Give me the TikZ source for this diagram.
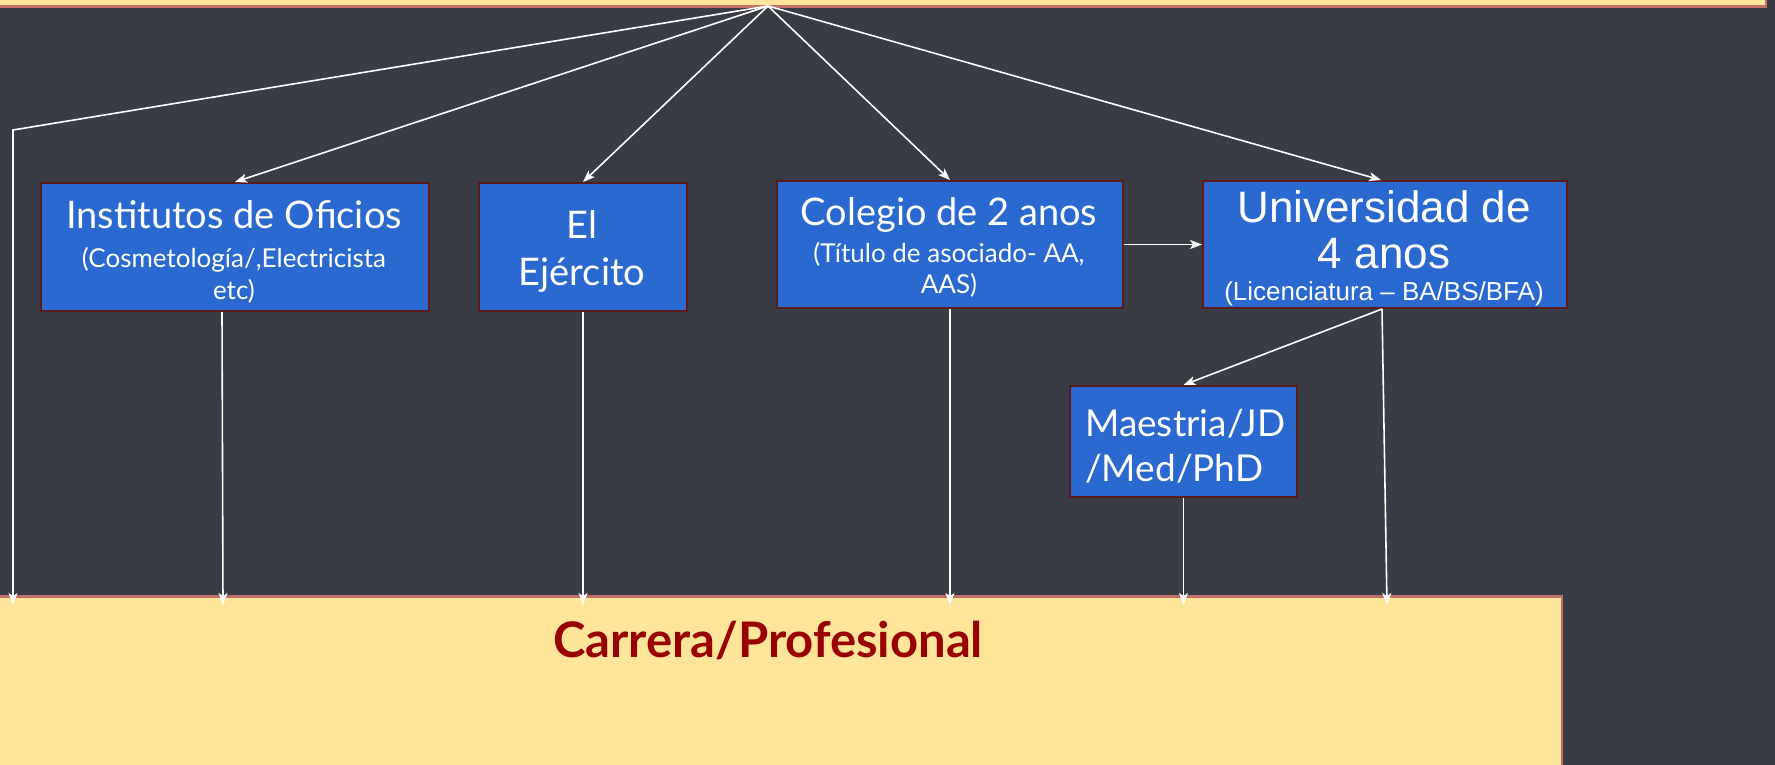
\documentclass[tikz,border=0pt]{standalone}
\usepackage{fontspec}
\setmainfont{Lato}
\newfontfamily\arialf{Liberation Sans}
\usetikzlibrary{arrows.meta,calc}
\definecolor{bg}{HTML}{393B45}
\definecolor{boxblue}{HTML}{2A69CF}
\definecolor{boxline}{HTML}{5C1A1A}
\definecolor{sand}{HTML}{FFE599}
\definecolor{sandline}{HTML}{C27068}
\definecolor{darkred}{HTML}{990000}
\begin{document}
\begin{tikzpicture}[x=1pt,y=-1pt,
  box/.style={draw=boxline,line width=2pt,fill=boxblue,inner sep=0pt,anchor=north west},
  band/.style={draw=sandline,line width=2.5pt,fill=sand,inner sep=0pt},
  big/.style={text=white,inner sep=0pt,anchor=base,font=\fontsize{38}{44}\selectfont},
  small/.style={text=white,inner sep=0pt,anchor=base,font=\fontsize{26}{30}\selectfont},
  bigA/.style={text=white,inner sep=0pt,anchor=base,font=\arialf\fontsize{44}{50}\selectfont},
  smallA/.style={text=white,inner sep=0pt,anchor=base,font=\arialf\fontsize{26}{30}\selectfont},
  link/.style={draw=white,line width=1.6pt,-{Stealth[length=12pt,width=9pt,inset=3pt]}},
  plain/.style={draw=white,line width=1.6pt}]
\useasboundingbox (0,0) rectangle (1775,765);
\fill[bg] (0,0) rectangle (1775,765);

% top band (cut off)
\node[band,anchor=south east,minimum width=1820pt,minimum height=60pt] (top) at (1767,8) {};
% bottom band
\node[band,anchor=north east,minimum width=1620pt,minimum height=200pt] (car) at (1563,595) {};
\node[text=darkred,inner sep=0pt,anchor=base,font=\bfseries\fontsize{49}{55}\selectfont] (cartxt) at (768,657) {Carrera/Profesional};

% boxes
\node[box,minimum width=388pt,minimum height=128pt] (inst) at (40,182) {};
\node[box,minimum width=208pt,minimum height=128pt] (ejer) at (478,182) {};
\node[box,minimum width=346pt,minimum height=127pt] (col) at (776,180) {};
\node[box,minimum width=364pt,minimum height=127pt] (uni) at (1202,180) {};
\node[box,minimum width=227pt,minimum height=111pt] (mae) at (1069,385) {};

% texts
\node[big] (inst1) at (234,228) {Institutos de Oficios};
\node[small] (inst2) at (234,267) {(Cosmetología/,Electricista};
\node[small] (inst3) at (234,299) {etc)};
\node[big] (ejer1) at (582,238) {El};
\node[big] (ejer2) at (582,285) {Ejército};
\node[big] (col1) at (949,225) {Colegio de 2 anos};
\node[small] (col2) at (949,262) {(Título de asociado- AA,};
\node[small] (col3) at (949,293) {AAS)};
\node[bigA] (uni1) at (1384,222) {Universidad de};
\node[bigA] (uni2) at (1384,268) {4 anos};
\node[smallA] (uni3) at (1384,300) {(Licenciatura – BA/BS/BFA)};
\node[big,anchor=base west,font=\fontsize{37}{44}\selectfont] (mae1) at (1085,436) {Maestria/JD};
\node[big,anchor=base west,font=\fontsize{37}{44}\selectfont] (mae2) at (1085,481) {/Med/PhD};

% connectors
\coordinate (apex) at (768,6);
\coordinate (bend) at (13,130);
\draw[link] (apex) -- (bend) -- ([yshift=-10pt]bend |- car.north);
\draw[link] (apex) -- (inst.north);
\draw[link] (apex) -- (ejer.north);
\draw[link] (apex) -- (col.north);
\draw[link] (apex) -- ([xshift=-4pt]uni.north);
\draw[link] (col.east) -- (uni.west);
\draw[link] ([xshift=-3pt]uni.south) -- (mae.north);
\draw[link] ([xshift=-13pt]inst.south) -- ([xshift=-12pt,yshift=-10pt]inst.south |- car.north);
\draw[link] (ejer.south) -- ([yshift=-10pt]ejer.south |- car.north);
\draw[link] (col.south) -- ([yshift=-10pt]col.south |- car.north);
\draw[link] (mae.south) -- ([yshift=-10pt]mae.south |- car.north);
\draw[link] ([xshift=-3pt]uni.south) -- ([xshift=2pt,yshift=-10pt]uni.south |- car.north);
\end{tikzpicture}
\end{document}
